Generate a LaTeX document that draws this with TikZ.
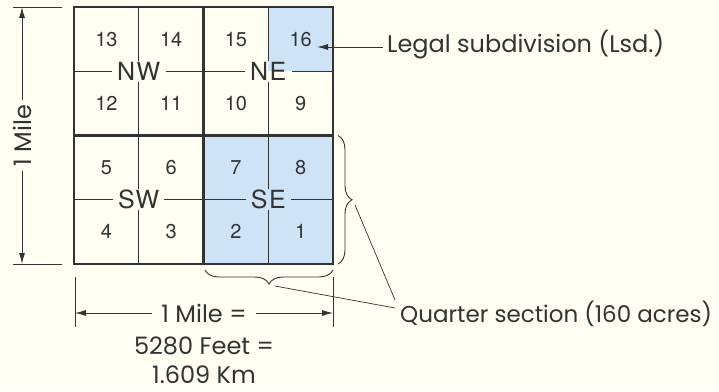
\documentclass[tikz,border=0pt]{standalone}
\usepackage{fontspec}
\setmainfont{TeX Gyre Heros}
\newfontfamily\labfont{Poppins}
\newfontfamily\qfont[LetterSpace=6]{TeX Gyre Heros}
\usetikzlibrary{arrows.meta,positioning,decorations.pathreplacing}
\definecolor{paper}{HTML}{FFFEF3}
\definecolor{sky}{HTML}{CFE3F7}
\definecolor{ink}{HTML}{333333}
\tikzset{
  quarter/.style={draw=ink,line width=2.6pt},
  lsdline/.style={draw=ink,line width=1.3pt},
  lsdnum/.style={font=\fontsize{20}{20}\selectfont,text=ink,inner sep=0pt,text height=14pt,text depth=0pt},
  qlabel/.style={font=\qfont\fontsize{25}{25}\selectfont,text=ink,inner xsep=5pt,inner ysep=1.5pt,text height=18pt,text depth=0pt},
  lab/.style={font=\labfont\fontsize{24}{24}\selectfont,text=ink,inner sep=0pt},
  dim/.style={draw=ink,line width=0.9pt},
  dimar/.style={dim,-{Latex[length=11pt,width=6pt]}},
  brc/.style={draw=ink,line width=0.9pt,decorate,decoration={brace,amplitude=14pt}},
}

\begin{document}
\begin{tikzpicture}[x=1pt,y=-1pt]
\useasboundingbox[fill=paper] (0,0) rectangle (719,391);
% shaded parts
\fill[sky] (268.25,7) rectangle (333,71.25);
\fill[sky] (203.5,135.5) rectangle (333,264);
% legal subdivisions, broken by the quarter names
\foreach \n/\t/\cx/\cy in {nw/NW/138.75/71.25, ne/NE/268.25/71.25, sw/SW/138.75/199.75, se/SE/268.25/199.75}{
  \node[qlabel] (\n) at (\cx,\cy) {\t};
  \draw[lsdline] (\cx-64.75,\cy) -- (\n.west) (\n.east) -- (\cx+64.75,\cy)
    (\cx,\cy-64.25) -- (\n.north) (\n.south) -- (\cx,\cy+64.25);
}
\foreach \c/\r/\k in {0/0/13,1/0/14,2/0/15,3/0/16,0/1/12,1/1/11,2/1/10,3/1/9,
                      0/2/5,1/2/6,2/2/7,3/2/8,0/3/4,1/3/3,2/3/2,3/3/1}
  \node[lsdnum] (l\k) at (74+64.75*\c+32.375,7+64.25*\r+32.125) {\k};
% section and quarters
\draw[quarter] (74,7) rectangle (333,264);
\draw[quarter] (203.5,7) -- (203.5,264) (74,135.5) -- (333,135.5);

% 1 mile, left
\coordinate (vt) at (22,7);
\coordinate (vb) at (22,264);
\draw[dim] (13,7) -- (62,7) (13,264) -- (62,264);
\node[lab,rotate=90,inner xsep=5pt] (vmile) at (22,135.5) {1 Mile};
\draw[dimar] (vmile.east) -- (vmile.east |- vt);
\draw[dimar] (vmile.west) -- (vmile.west |- vb);

% 1 mile, below
\coordinate (hl) at (75,315);
\coordinate (hr) at (333,315);
\draw[dim] (75,277) -- (75,327) (333,277) -- (333,327);
\node[lab,inner xsep=9pt,anchor=base] (hmile) at (204,322) {1 Mile =};
\draw[dimar] (hmile.west) -- (hmile.west -| hl);
\draw[dimar] (hmile.east) -- (hmile.east -| hr);
\node[lab,anchor=base] (feet) at (204,354) {5280 Feet =};
\node[lab,anchor=base] (km) at (204,383) {1.609 Km};

% legal subdivision
\coordinate (c16) at (317,47);
\node[lab,anchor=base west] (lsdlbl) at (387,52) {Legal subdivision (Lsd.)};
\draw[dimar] ([xshift=-4pt,yshift=5pt]lsdlbl.base west) -- (c16);

% quarter section
\draw[brc] (338,135.5) -- (338,264);
\draw[brc] (333,270) -- (205,270);
\coordinate (bt1) at (355,205);
\coordinate (bt2) at (275,286);
\node[lab,font=\labfont\fontsize{23}{23}\selectfont,anchor=base west] (qlbl) at (400,322) {Quarter section (160 acres)};
\draw[dim,line width=0.7pt] (bt1) -- ([xshift=-5pt,yshift=22pt]qlbl.base west);
\draw[dim,line width=0.7pt] (bt2) -- ([xshift=-5pt,yshift=14pt]qlbl.base west);
\end{tikzpicture}
\end{document}
